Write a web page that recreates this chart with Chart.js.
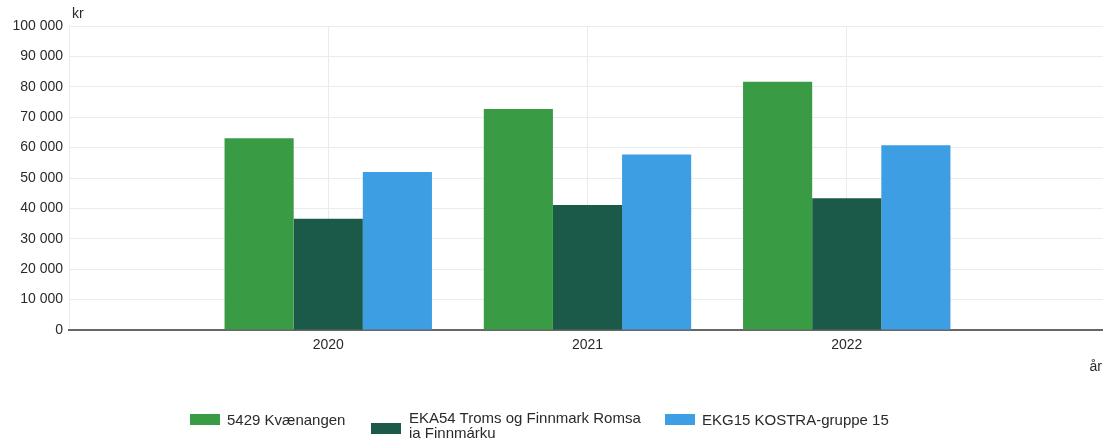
<!DOCTYPE html>
<html>
<head>
<meta charset="utf-8">
<script src="https://cdn.jsdelivr.net/npm/chart.js@4"></script>
<style>
  html, body { margin: 0; background: #fff; overflow: hidden; font-family: "Liberation Sans", Arial, sans-serif; }
  #wrap { position: relative; width: 1103px; height: 439px; overflow: hidden; }
  #legend .item { position: absolute; font-size: 15px; color: #2a2a2a; line-height: 15px; white-space: nowrap; }
  #legend .box { position: absolute; width: 30px; height: 11px; }
</style>
</head>
<body>
<div id="wrap">
  <canvas id="chart" width="1113" height="439"></canvas>
  <div id="legend"></div>
</div>
<script>
var years = ['', '2020', '2021', '2022', ''];
var seriesNames = ['5429 Kvænangen', 'EKA54 Troms og Finnmark Romsa\nia Finnmárku', 'EKG15 KOSTRA-gruppe 15'];
var kvaenangen = [null, 63100, 72700, 81700, null];
var eka54 = [null, 36600, 41100, 43300, null];
var ekg15 = [null, 52000, 57700, 60800, null];
var colors = ['#3a9b45', '#1b5948', '#3e9ee3'];

var fmt = function (v) {
    return String(v).replace(/\B(?=(\d{3})+(?!\d))/g, ' ');
};

// "kr" over the y axis and "år" under the x axis
var axisTitles = {
    id: 'axisTitles',
    afterDraw: function (chart) {
        var ctx = chart.ctx;
        var area = chart.chartArea;
        ctx.save();
        ctx.fillStyle = '#2a2a2a';
        ctx.font = '14px "Liberation Sans", Arial, sans-serif';
        ctx.textBaseline = 'middle';
        ctx.textAlign = 'left';
        ctx.fillText('kr', area.left + 3, 14);
        ctx.textAlign = 'right';
        ctx.fillText('år', 1102, 367);
        ctx.restore();
    }
};

var ctx = document.getElementById('chart').getContext('2d');
var chart = new Chart(ctx, {
    type: 'bar',
    data: {
        labels: years,
        datasets: [
            { label: seriesNames[0], data: kvaenangen, backgroundColor: colors[0] },
            { label: seriesNames[1], data: eka54, backgroundColor: colors[1] },
            { label: seriesNames[2], data: ekg15, backgroundColor: colors[2] }
        ]
    },
    options: {
        responsive: false,
        animation: false,
        categoryPercentage: 0.8,
        barPercentage: 1.0,
        layout: { padding: { top: 26, right: 0, bottom: 0, left: 0 } },
        plugins: { legend: { display: false }, tooltip: { enabled: false } },
        scales: {
            x: {
                offset: false,
                grid: { color: '#e8ecec', drawTicks: false, offset: false },
                border: { color: '#666', width: 2 },
                ticks: { color: '#2a2a2a', padding: 7, maxRotation: 0, font: { size: 14, family: '"Liberation Sans", Arial, sans-serif' } },
                afterFit: function (scale) { scale.height = 109; }
            },
            y: {
                min: 0,
                max: 100000,
                grid: { color: '#e8ecec', drawTicks: false },
                border: { display: false },
                ticks: {
                    stepSize: 10000,
                    color: '#2a2a2a',
                    padding: 6,
                    font: { size: 14, family: '"Liberation Sans", Arial, sans-serif' },
                    callback: function (v) { return fmt(v); }
                },
                afterFit: function (scale) { scale.width = 69; }
            }
        }
    },
    plugins: [axisTitles]
});

// legend below the chart, second name wraps onto two lines
var legendPos = [
    { box: [190, 414], text: [227, 412] },
    { box: [371, 423], text: [409, 410] },
    { box: [665, 414], text: [702, 412] }
];
var legend = document.getElementById('legend');
seriesNames.forEach(function (name, i) {
    var b = document.createElement('div');
    b.className = 'box';
    b.style.left = legendPos[i].box[0] + 'px';
    b.style.top = legendPos[i].box[1] + 'px';
    b.style.background = colors[i];
    legend.appendChild(b);
    var t = document.createElement('div');
    t.className = 'item';
    t.style.left = legendPos[i].text[0] + 'px';
    t.style.top = legendPos[i].text[1] + 'px';
    t.innerHTML = name.split('\n').join('<br>');
    legend.appendChild(t);
});
</script>
</body>
</html>
